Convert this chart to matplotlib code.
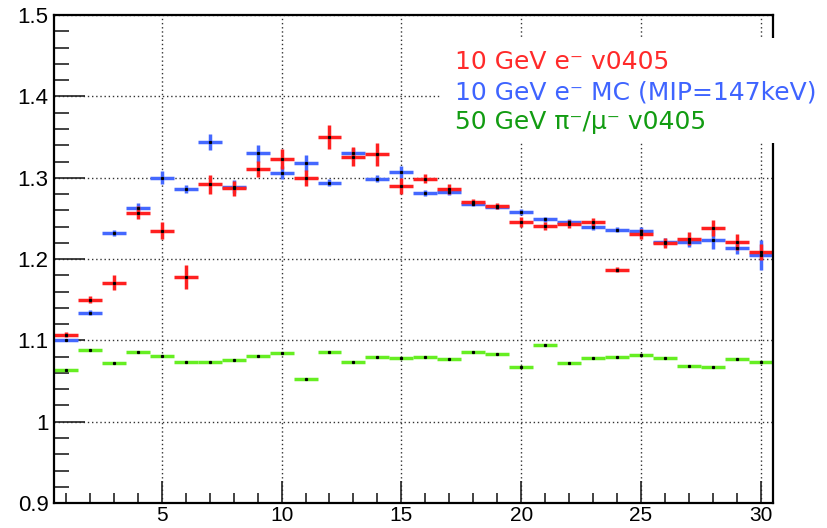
import numpy as np
import matplotlib
matplotlib.use("Agg")
import matplotlib.pyplot as plt
from matplotlib.ticker import MultipleLocator
from matplotlib.patches import Rectangle

layer = np.arange(1, 31)

# 10 GeV e- data v0405
red_y = [1.107, 1.150, 1.171, 1.257, 1.235, 1.178, 1.292, 1.287, 1.311, 1.323,
         1.300, 1.350, 1.326, 1.329, 1.290, 1.299, 1.286, 1.270, 1.265, 1.246,
         1.241, 1.243, 1.246, 1.187, 1.231, 1.220, 1.225, 1.238, 1.221, 1.209]
red_err = [0.003, 0.004, 0.009, 0.008, 0.010, 0.015, 0.012, 0.009, 0.010, 0.012,
           0.010, 0.015, 0.012, 0.014, 0.010, 0.006, 0.006, 0.004, 0.004, 0.006,
           0.005, 0.005, 0.005, 0.003, 0.006, 0.006, 0.008, 0.010, 0.010, 0.010]

# 10 GeV e- MC
blue_y = [1.100, 1.134, 1.232, 1.263, 1.300, 1.286, 1.344, 1.289, 1.330, 1.306,
          1.318, 1.294, 1.330, 1.299, 1.307, 1.281, 1.283, 1.268, 1.264, 1.258,
          1.249, 1.246, 1.240, 1.236, 1.234, 1.221, 1.221, 1.224, 1.214, 1.205]
blue_err = [0.001, 0.003, 0.004, 0.006, 0.008, 0.005, 0.010, 0.008, 0.010, 0.008,
            0.010, 0.004, 0.007, 0.004, 0.007, 0.004, 0.004, 0.003, 0.003, 0.004,
            0.003, 0.003, 0.004, 0.003, 0.006, 0.005, 0.006, 0.012, 0.008, 0.018]

# 50 GeV pi-/mu- v0405
green_y = [1.064, 1.088, 1.072, 1.086, 1.081, 1.074, 1.074, 1.076, 1.081, 1.085,
           1.053, 1.086, 1.074, 1.080, 1.078, 1.080, 1.077, 1.086, 1.083, 1.067,
           1.094, 1.072, 1.078, 1.080, 1.082, 1.078, 1.069, 1.067, 1.077, 1.074]

labels = ["10 GeV e\u207b v0405",
          "10 GeV e\u207b MC (MIP=147keV)",
          "50 GeV \u03c0\u207b/\u03bc\u207b v0405"]

c_red = "#ff2020"
c_blue = "#4468ff"
c_green = "#66ee22"

plt.rcParams['font.family'] = ['Liberation Sans', 'DejaVu Sans']
fig = plt.figure(figsize=(8.28, 5.28), dpi=100)
ax = fig.add_axes([0.0652, 0.0473, 0.868, 0.924])

ax.errorbar(layer, green_y, xerr=0.5, fmt='none', ecolor=c_green, elinewidth=2.5, capsize=0)
ax.errorbar(layer, blue_y, xerr=0.5, yerr=blue_err, fmt='none', ecolor=c_blue, elinewidth=2.5, capsize=0)
ax.errorbar(layer, red_y, xerr=0.5, yerr=red_err, fmt='none', ecolor=c_red, elinewidth=2.5, capsize=0)
for yy in (green_y, blue_y, red_y):
    ax.plot(layer, yy, ls='none', marker='s', ms=1.3, color='black')

ax.set_xlim(0.5, 30.5)
ax.set_ylim(0.9, 1.5)
ax.xaxis.set_major_locator(MultipleLocator(5))
ax.xaxis.set_minor_locator(MultipleLocator(1))
ax.yaxis.set_major_locator(MultipleLocator(0.1))
ax.yaxis.set_minor_locator(MultipleLocator(0.02))
ax.set_yticks([0.9, 1.0, 1.1, 1.2, 1.3, 1.4, 1.5])
ax.set_yticklabels(["0.9", "1", "1.1", "1.2", "1.3", "1.4", "1.5"])
ax.tick_params(which='both', direction='in', width=1.2, color='#222222')
ax.tick_params(which='major', axis='y', length=22, pad=4, labelsize=16)
ax.tick_params(which='minor', axis='y', length=11)
ax.tick_params(which='major', axis='x', length=16, pad=2, labelsize=15)
ax.tick_params(which='minor', axis='x', length=7)
ax.grid(True, which='major', color='#333333', linestyle=(0, (1, 2)), linewidth=1)
for s in ax.spines.values():
    s.set_linewidth(1.6)

# legend box
W, H = 828, 528
fig.add_artist(Rectangle((440 / W, 1 - 143 / H), (W - 440) / W, 105 / H,
                         transform=fig.transFigure, facecolor='white', edgecolor='none', zorder=5))
for i, (lab, c) in enumerate(zip(labels, ["#ff2a2a", "#3f64ff", "#129c12"])):
    fig.text(455 / W, 1 - (62 + 30 * i) / H, lab, color=c, fontsize=18,
             family=['DejaVu Sans'], va='center', ha='left', zorder=6)

fig.savefig("out.png", dpi=100)
